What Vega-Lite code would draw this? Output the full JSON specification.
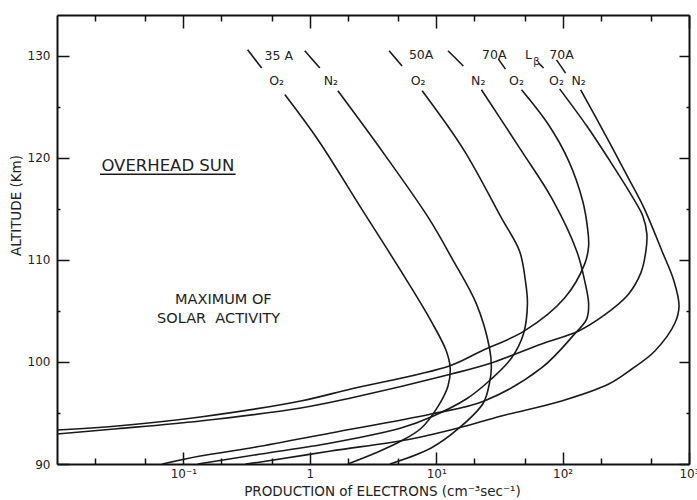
{
  "$schema": "https://vega.github.io/schema/vega-lite/v6.json",
  "width": 632,
  "height": 449,
  "autosize": "none",
  "padding": {"left": 57, "top": 15, "right": 8, "bottom": 36},
  "background": "white",
  "config": {
    "view": {"stroke": null},
    "font": "DejaVu Sans",
    "axis": {"grid": false, "domainColor": "#111", "domainWidth": 2, "tickColor": "#111", "tickWidth": 1.5, "labelFontSize": 12, "labelColor": "#222", "labelFont": "DejaVu Sans", "titleFont": "DejaVu Sans", "titleFontSize": 13.5, "titleFontWeight": "normal", "titleColor": "#222"}
  },
  "datasets": {
    "curves": [
      {"curve": "35A O2", "i": 1, "prod": 0.634, "alt": 126.2},
      {"curve": "35A O2", "i": 2, "prod": 1.17, "alt": 121.7},
      {"curve": "35A O2", "i": 3, "prod": 2.54, "alt": 115.1},
      {"curve": "35A O2", "i": 4, "prod": 5.78, "alt": 108.1},
      {"curve": "35A O2", "i": 5, "prod": 9.12, "alt": 104.0},
      {"curve": "35A O2", "i": 6, "prod": 12.0, "alt": 101.1},
      {"curve": "35A O2", "i": 7, "prod": 12.9, "alt": 99.4},
      {"curve": "35A O2", "i": 8, "prod": 12.4, "alt": 97.65},
      {"curve": "35A O2", "i": 9, "prod": 10.4, "alt": 95.7},
      {"curve": "35A O2", "i": 10, "prod": 7.6, "alt": 93.5},
      {"curve": "35A O2", "i": 11, "prod": 5.27, "alt": 92.25},
      {"curve": "35A O2", "i": 12, "prod": 3.34, "alt": 91.1},
      {"curve": "35A O2", "i": 13, "prod": 2.0, "alt": 90.0},

      {"curve": "35A N2", "i": 1, "prod": 1.667, "alt": 126.57},
      {"curve": "35A N2", "i": 2, "prod": 3.87, "alt": 120.39},
      {"curve": "35A N2", "i": 3, "prod": 8.8, "alt": 114.02},
      {"curve": "35A N2", "i": 4, "prod": 13.4, "alt": 110.1},
      {"curve": "35A N2", "i": 5, "prod": 20.8, "alt": 105.69},
      {"curve": "35A N2", "i": 6, "prod": 26.4, "alt": 101.37},
      {"curve": "35A N2", "i": 7, "prod": 27.3, "alt": 99.41},
      {"curve": "35A N2", "i": 8, "prod": 26.4, "alt": 97.94},
      {"curve": "35A N2", "i": 9, "prod": 23.6, "alt": 95.98},
      {"curve": "35A N2", "i": 10, "prod": 15.2, "alt": 93.53},
      {"curve": "35A N2", "i": 11, "prod": 9.12, "alt": 91.57},
      {"curve": "35A N2", "i": 12, "prod": 4.3, "alt": 90.0},

      {"curve": "50A O2", "i": 1, "prod": 7.74, "alt": 126.57},
      {"curve": "50A O2", "i": 2, "prod": 16.7, "alt": 120.69},
      {"curve": "50A O2", "i": 3, "prod": 32.8, "alt": 114.12},
      {"curve": "50A O2", "i": 4, "prod": 45.6, "alt": 110.88},
      {"curve": "50A O2", "i": 5, "prod": 50.8, "alt": 107.94},
      {"curve": "50A O2", "i": 6, "prod": 52.7, "alt": 105.69},
      {"curve": "50A O2", "i": 7, "prod": 49.0, "alt": 102.75},
      {"curve": "50A O2", "i": 8, "prod": 39.4, "alt": 100.39},
      {"curve": "50A O2", "i": 9, "prod": 27.3, "alt": 98.33},
      {"curve": "50A O2", "i": 10, "prod": 17.3, "alt": 96.37},
      {"curve": "50A O2", "i": 11, "prod": 9.12, "alt": 94.61},
      {"curve": "50A O2", "i": 12, "prod": 5.27, "alt": 93.53},
      {"curve": "50A O2", "i": 13, "prod": 1.468, "alt": 92.06},
      {"curve": "50A O2", "i": 14, "prod": 0.409, "alt": 90.98},
      {"curve": "50A O2", "i": 15, "prod": 0.13, "alt": 90.0},

      {"curve": "50A N2", "i": 1, "prod": 22.8, "alt": 126.67},
      {"curve": "50A N2", "i": 2, "prod": 47.3, "alt": 120.69},
      {"curve": "50A N2", "i": 3, "prod": 81.8, "alt": 116.08},
      {"curve": "50A N2", "i": 4, "prod": 129.2, "alt": 110.88},
      {"curve": "50A N2", "i": 5, "prod": 149.6, "alt": 107.94},
      {"curve": "50A N2", "i": 6, "prod": 160.7, "alt": 105.69},
      {"curve": "50A N2", "i": 7, "prod": 155, "alt": 104.2},
      {"curve": "50A N2", "i": 8, "prod": 124.5, "alt": 102.75},
      {"curve": "50A N2", "i": 9, "prod": 68.1, "alt": 99.41},
      {"curve": "50A N2", "i": 10, "prod": 24.0, "alt": 96.18},
      {"curve": "50A N2", "i": 11, "prod": 9.12, "alt": 94.9},
      {"curve": "50A N2", "i": 12, "prod": 1.468, "alt": 93.04},
      {"curve": "50A N2", "i": 13, "prod": 0.34, "alt": 91.57},
      {"curve": "50A N2", "i": 14, "prod": 0.136, "alt": 90.78},
      {"curve": "50A N2", "i": 15, "prod": 0.068, "alt": 90.0},

      {"curve": "70A O2", "i": 1, "prod": 47.3, "alt": 126.67},
      {"curve": "70A O2", "i": 2, "prod": 77.4, "alt": 123.24},
      {"curve": "70A O2", "i": 3, "prod": 111.6, "alt": 119.71},
      {"curve": "70A O2", "i": 4, "prod": 144.2, "alt": 115.78},
      {"curve": "70A O2", "i": 5, "prod": 157.8, "alt": 113.04},
      {"curve": "70A O2", "i": 6, "prod": 160.7, "alt": 111.37},
      {"curve": "70A O2", "i": 7, "prod": 149.6, "alt": 109.61},
      {"curve": "70A O2", "i": 8, "prod": 103.7, "alt": 106.27},
      {"curve": "70A O2", "i": 9, "prod": 49.9, "alt": 103.04},
      {"curve": "70A O2", "i": 10, "prod": 22.8, "alt": 101.08},
      {"curve": "70A O2", "i": 11, "prod": 12.7, "alt": 99.61},
      {"curve": "70A O2", "i": 12, "prod": 2.115, "alt": 97.35},
      {"curve": "70A O2", "i": 13, "prod": 0.849, "alt": 96.18},
      {"curve": "70A O2", "i": 14, "prod": 0.136, "alt": 94.61},
      {"curve": "70A O2", "i": 15, "prod": 0.0299, "alt": 93.73},
      {"curve": "70A O2", "i": 16, "prod": 0.01, "alt": 93.33},

      {"curve": "Lb O2", "i": 1, "prod": 94.7, "alt": 126.76},
      {"curve": "Lb O2", "i": 2, "prod": 155, "alt": 123.14},
      {"curve": "Lb O2", "i": 3, "prod": 245, "alt": 119.41},
      {"curve": "Lb O2", "i": 4, "prod": 353, "alt": 116.27},
      {"curve": "Lb O2", "i": 5, "prod": 431, "alt": 114.31},
      {"curve": "Lb O2", "i": 6, "prod": 464, "alt": 112.55},
      {"curve": "Lb O2", "i": 7, "prod": 456, "alt": 110.88},
      {"curve": "Lb O2", "i": 8, "prod": 416, "alt": 108.73},
      {"curve": "Lb O2", "i": 9, "prod": 328, "alt": 106.57},
      {"curve": "Lb O2", "i": 10, "prod": 204, "alt": 104.41},
      {"curve": "Lb O2", "i": 11, "prod": 134, "alt": 103.04},
      {"curve": "Lb O2", "i": 12, "prod": 68.1, "alt": 101.76},
      {"curve": "Lb O2", "i": 13, "prod": 27.3, "alt": 99.9},
      {"curve": "Lb O2", "i": 14, "prod": 13.2, "alt": 98.82},
      {"curve": "Lb O2", "i": 15, "prod": 2.115, "alt": 96.47},
      {"curve": "Lb O2", "i": 16, "prod": 0.849, "alt": 95.49},
      {"curve": "Lb O2", "i": 17, "prod": 0.136, "alt": 94.22},
      {"curve": "Lb O2", "i": 18, "prod": 0.0299, "alt": 93.45},
      {"curve": "Lb O2", "i": 19, "prod": 0.01, "alt": 92.94},

      {"curve": "70A N2", "i": 1, "prod": 139, "alt": 126.67},
      {"curve": "70A N2", "i": 2, "prod": 186, "alt": 123.82},
      {"curve": "70A N2", "i": 3, "prod": 250, "alt": 120.88},
      {"curve": "70A N2", "i": 4, "prod": 334, "alt": 117.94},
      {"curve": "70A N2", "i": 5, "prod": 440, "alt": 115.1},
      {"curve": "70A N2", "i": 6, "prod": 611, "alt": 110.88},
      {"curve": "70A N2", "i": 7, "prod": 760, "alt": 107.94},
      {"curve": "70A N2", "i": 8, "prod": 834, "alt": 105.49},
      {"curve": "70A N2", "i": 9, "prod": 774, "alt": 103.82},
      {"curve": "70A N2", "i": 10, "prod": 537, "alt": 101.08},
      {"curve": "70A N2", "i": 11, "prod": 353, "alt": 99.31},
      {"curve": "70A N2", "i": 12, "prod": 232, "alt": 97.84},
      {"curve": "70A N2", "i": 13, "prod": 98.2, "alt": 96.18},
      {"curve": "70A N2", "i": 14, "prod": 32.8, "alt": 94.71},
      {"curve": "70A N2", "i": 15, "prod": 15.0, "alt": 93.53},
      {"curve": "70A N2", "i": 16, "prod": 6.34, "alt": 92.45},
      {"curve": "70A N2", "i": 17, "prod": 1.468, "alt": 91.27},
      {"curve": "70A N2", "i": 18, "prod": 0.409, "alt": 90.2},
      {"curve": "70A N2", "i": 19, "prod": 0.31, "alt": 90.0}
    ],
    "toplabels": [
      {"text": "35 A", "prod": 0.568, "alt": 130.0},
      {"text": "O₂", "prod": 0.547, "alt": 127.5},
      {"text": "N₂", "prod": 1.47, "alt": 127.5},
      {"text": "50A", "prod": 7.6, "alt": 130.1},
      {"text": "O₂", "prod": 7.19, "alt": 127.5},
      {"text": "N₂", "prod": 21.5, "alt": 127.5},
      {"text": "70A", "prod": 28.8, "alt": 130.1},
      {"text": "O₂", "prod": 43.2, "alt": 127.5},
      {"text": "L", "prod": 53.7, "alt": 130.1},
      {"text": "70A", "prod": 98.2, "alt": 130.1},
      {"text": "O₂", "prod": 89.5, "alt": 127.5},
      {"text": "N₂", "prod": 134, "alt": 127.5}
    ],
    "sub": [
      {"text": "β", "prod": 62.2, "alt": 129.4}
    ],
    "heading": [
      {"text": "OVERHEAD SUN", "prod": 0.0753, "alt": 119.2}
    ],
    "body": [
      {"text": "MAXIMUM OF", "prod": 0.207, "alt": 106.1},
      {"text": "SOLAR\u00a0\u00a0ACTIVITY", "prod": 0.19, "alt": 104.2}
    ],
    "strokes": [
      {"prod": 0.322, "alt": 130.6, "prod2": 0.416, "alt2": 128.8},
      {"prod": 0.912, "alt": 130.5, "prod2": 1.2, "alt2": 128.8},
      {"prod": 4.24, "alt": 130.5, "prod2": 5.37, "alt2": 129.0},
      {"prod": 12.4, "alt": 130.5, "prod2": 16.4, "alt2": 129.0},
      {"prod": 31.0, "alt": 129.7, "prod2": 35.3, "alt2": 128.7},
      {"prod": 64.6, "alt": 129.3, "prod2": 70.7, "alt2": 128.8},
      {"prod": 89.5, "alt": 129.6, "prod2": 105.6, "alt2": 128.3},
      {"prod": 0.0219, "alt": 118.4, "prod2": 0.259, "alt2": 118.4}
    ]
  },
  "layer": [
    {
      "data": {"name": "curves"},
      "mark": {"type": "line", "interpolate": "catmull-rom", "stroke": "#1a1a1a", "strokeWidth": 1.6, "clip": true},
      "encoding": {
        "x": {
          "field": "prod", "type": "quantitative",
          "scale": {"type": "log", "domain": [0.01, 1000], "nice": false},
          "axis": {
            "orient": "bottom",
            "values": [0.02, 0.05, 0.1, 0.2, 0.5, 1, 2, 5, 10, 20, 50, 100, 200, 500, 1000],
            "labelExpr": "datum.value == 0.1 ? '10⁻¹' : datum.value == 1 ? '1' : datum.value == 10 ? '10¹' : datum.value == 100 ? '10²' : datum.value == 1000 ? '10³' : ''",
            "tickSize": {"condition": {"test": "indexof([0.1, 1, 10, 100, 1000], datum.value) >= 0", "value": -12}, "value": -6},
            "labelPadding": 16,
            "labelFlush": false,
            "labelOverlap": false,
            "title": "PRODUCTION of ELECTRONS (cm⁻³sec⁻¹)",
            "titleX": 325,
            "titleY": 34,
            "titleBaseline": "bottom"
          }
        },
        "y": {
          "field": "alt", "type": "quantitative",
          "scale": {"domain": [90, 134], "nice": false, "zero": false},
          "axis": {
            "orient": "left",
            "values": [90, 95, 100, 105, 110, 115, 120, 125, 130],
            "labelExpr": "datum.value % 10 == 0 ? datum.label : ''",
            "tickSize": {"condition": {"test": "datum.value % 10 == 0", "value": -12}, "value": -3},
            "labelPadding": 19,
            "labelOverlap": false,
            "title": "ALTITUDE (Km)",
            "titleX": -34,
            "titleY": 190,
            "titleBaseline": "bottom"
          }
        },
        "detail": {"field": "curve"},
        "order": {"field": "i", "type": "quantitative"}
      }
    },
    {
      "data": {"name": "toplabels"},
      "mark": {"type": "text", "fontSize": 12.5, "font": "DejaVu Sans", "fill": "#222", "align": "center", "baseline": "middle"},
      "encoding": {
        "x": {
          "field": "prod", "type": "quantitative",
          "scale": {"type": "log", "domain": [0.01, 1000], "nice": false},
          "axis": {
            "orient": "top",
            "values": [0.02, 0.05, 0.1, 0.2, 0.5, 1, 2, 5, 10, 20, 50, 100, 200, 500, 1000],
            "labels": false,
            "tickSize": {"condition": {"test": "indexof([0.1, 1, 10, 100, 1000], datum.value) >= 0", "value": -13}, "value": -6},
            "title": null
          }
        },
        "y": {
          "field": "alt", "type": "quantitative",
          "scale": {"domain": [90, 134], "nice": false, "zero": false},
          "axis": {
            "orient": "right",
            "values": [90, 95, 100, 105, 110, 115, 120, 125, 130],
            "labels": false,
            "tickSize": {"condition": {"test": "datum.value % 10 == 0", "value": -10}, "value": -3},
            "title": null
          }
        },
        "text": {"field": "text"}
      }
    },
    {
      "data": {"name": "sub"},
      "mark": {"type": "text", "fontSize": 10, "font": "DejaVu Sans", "fill": "#222", "align": "center", "baseline": "middle"},
      "encoding": {
        "x": {"field": "prod", "type": "quantitative", "scale": {"type": "log", "domain": [0.01, 1000], "nice": false}, "axis": null},
        "y": {"field": "alt", "type": "quantitative", "scale": {"domain": [90, 134], "nice": false, "zero": false}, "axis": null},
        "text": {"field": "text"}
      }
    },
    {
      "data": {"name": "heading"},
      "mark": {"type": "text", "fontSize": 16.5, "font": "DejaVu Sans", "fill": "#222", "align": "center", "baseline": "middle"},
      "encoding": {
        "x": {"field": "prod", "type": "quantitative", "scale": {"type": "log", "domain": [0.01, 1000], "nice": false}, "axis": null},
        "y": {"field": "alt", "type": "quantitative", "scale": {"domain": [90, 134], "nice": false, "zero": false}, "axis": null},
        "text": {"field": "text"}
      }
    },
    {
      "data": {"name": "body"},
      "mark": {"type": "text", "fontSize": 14.5, "font": "DejaVu Sans", "fill": "#222", "align": "center", "baseline": "middle"},
      "encoding": {
        "x": {"field": "prod", "type": "quantitative", "scale": {"type": "log", "domain": [0.01, 1000], "nice": false}, "axis": null},
        "y": {"field": "alt", "type": "quantitative", "scale": {"domain": [90, 134], "nice": false, "zero": false}, "axis": null},
        "text": {"field": "text"}
      }
    },
    {
      "data": {"name": "strokes"},
      "mark": {"type": "rule", "stroke": "#1a1a1a", "strokeWidth": 1.6},
      "encoding": {
        "x": {"field": "prod", "type": "quantitative", "scale": {"type": "log", "domain": [0.01, 1000], "nice": false}, "axis": null},
        "y": {"field": "alt", "type": "quantitative", "scale": {"domain": [90, 134], "nice": false, "zero": false}, "axis": null},
        "x2": {"field": "prod2"},
        "y2": {"field": "alt2"}
      }
    }
  ],
  "resolve": {"axis": {"x": "independent", "y": "independent"}}
}
